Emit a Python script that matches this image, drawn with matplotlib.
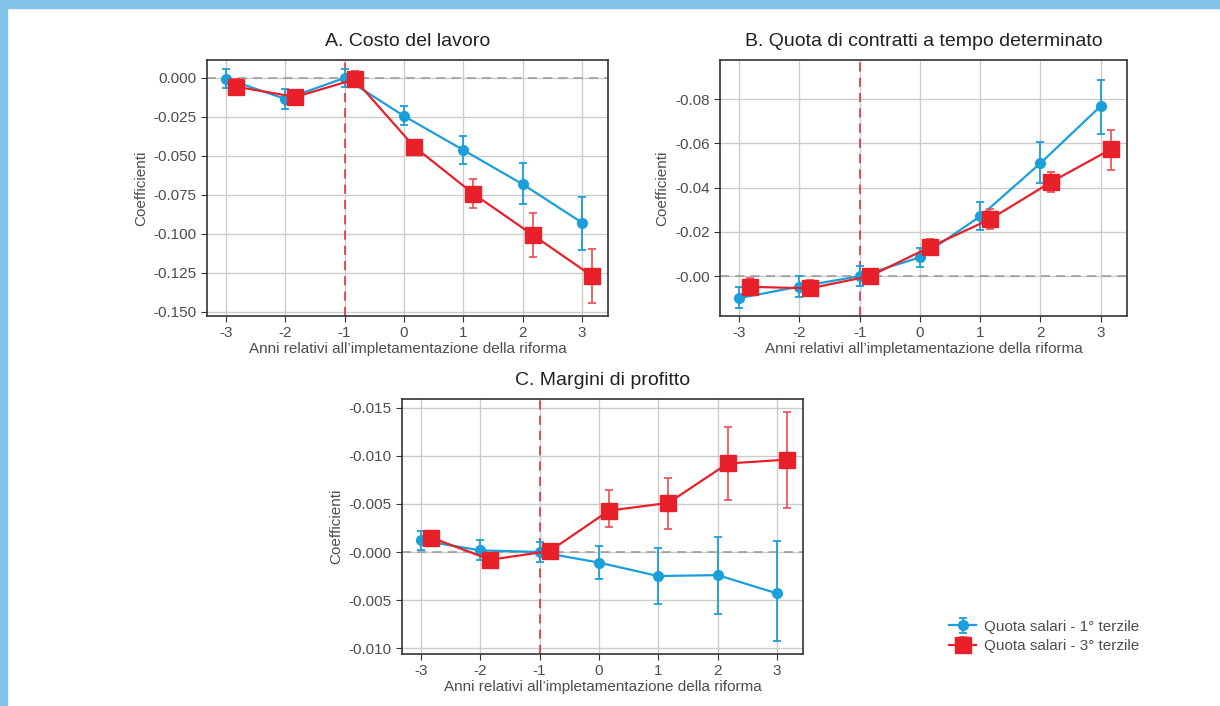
import numpy as np
import matplotlib
matplotlib.use("Agg")
import matplotlib.pyplot as plt
from matplotlib.ticker import FuncFormatter
from matplotlib.patches import Rectangle

plt.rcParams['font.family'] = ['Liberation Sans', 'DejaVu Sans']
plt.rcParams['axes.unicode_minus'] = False

# anni relativi
anni = [-3, -2, -1, 0, 1, 2, 3]
serie = ['Quota salari - 1° terzile', 'Quota salari - 3° terzile']

# A. Costo del lavoro
a_blu = [-0.0004, -0.0135, 0.0000, -0.0244, -0.0462, -0.0681, -0.0927]
a_blu_hi = [0.0060, -0.0073, 0.0060, -0.0177, -0.0370, -0.0547, -0.0763]
a_blu_lo = [-0.0066, -0.0199, -0.0060, -0.0303, -0.0551, -0.0810, -0.1100]
a_ros = [-0.0056, -0.0122, -0.0009, -0.0440, -0.0742, -0.1006, -0.1269]
a_ros_hi = [-0.0009, -0.0075, 0.0047, -0.0395, -0.0645, -0.0863, -0.1098]
a_ros_lo = [-0.0109, -0.0175, -0.0051, -0.0494, -0.0835, -0.1149, -0.1444]

# B. Quota di contratti a tempo determinato
b_blu = [-0.0099, -0.0047, 0.0000, 0.0085, 0.0270, 0.0510, 0.0768]
b_blu_hi = [-0.0051, -0.0001, 0.0044, 0.0129, 0.0336, 0.0606, 0.0886]
b_blu_lo = [-0.0142, -0.0092, -0.0044, 0.0041, 0.0209, 0.0420, 0.0644]
b_ros = [-0.0048, -0.0055, 0.0000, 0.0132, 0.0258, 0.0424, 0.0573]
b_ros_hi = [-0.0009, -0.0018, 0.0033, 0.0167, 0.0302, 0.0473, 0.0662]
b_ros_lo = [-0.0080, -0.0088, -0.0033, 0.0097, 0.0212, 0.0379, 0.0480]

# C. Margini di profitto
c_blu = [0.0012, 0.00017, 0.0000, -0.0011, -0.0025, -0.0024, -0.0043]
c_blu_hi = [0.0022, 0.0012, 0.0010, 0.00065, 0.00045, 0.0016, 0.0011]
c_blu_lo = [0.0002, -0.0008, -0.0010, -0.0028, -0.0054, -0.0064, -0.0093]
c_ros = [0.0015, -0.0008, 0.0001, 0.0043, 0.0051, 0.0092, 0.0096]
c_ros_hi = [0.0022, -0.0001, 0.0008, 0.0064, 0.0077, 0.0130, 0.0145]
c_ros_lo = [0.00065, -0.0016, -0.0007, 0.0026, 0.0024, 0.0054, 0.0046]

BLU = '#1a9fdb'
ROSSO = '#e8202a'
TXT = '#4d4d4d'

fig = plt.figure(figsize=(12.2, 7.06), dpi=100)
fig.patches.append(Rectangle((0, 1 - 8 / 706), 1, 8 / 706, transform=fig.transFigure,
                             color='#85c4ea', zorder=0))
fig.patches.append(Rectangle((0, 0), 7 / 1220, 1, transform=fig.transFigure,
                             color='#85c4ea', zorder=0))


def pannello(rect, titolo, blu, blu_lo, blu_hi, ros, ros_lo, ros_hi, yticks, ylim, fmt):
    ax = fig.add_axes(rect)
    x = np.array(anni, dtype=float)
    blu = np.array(blu); ros = np.array(ros)
    eb = np.vstack([blu - np.array(blu_lo), np.array(blu_hi) - blu])
    er = np.vstack([ros - np.array(ros_lo), np.array(ros_hi) - ros])
    ax.axhline(0, color='#999999', lw=1.1, ls=(0, (6, 4)), zorder=1)
    ax.axvline(-1, color=ROSSO, lw=1.1, ls=(0, (6, 4)), zorder=1)
    hb = ax.errorbar(x, blu, yerr=eb, color=BLU, lw=1.6, marker='o', ms=7,
                     capsize=3, elinewidth=1.3, capthick=1.3, zorder=3)
    hr = ax.errorbar(x + 0.17, ros, yerr=er, color=ROSSO, lw=1.6, marker='s', ms=12,
                     capsize=3, elinewidth=1.2, capthick=1.2, ecolor='#ee4a50', zorder=4)
    ax.set_xlim(-3.32, 3.44)
    ax.set_ylim(*ylim)
    ax.set_xticks(anni)
    ax.set_yticks(yticks)
    ax.yaxis.set_major_formatter(FuncFormatter(fmt))
    ax.grid(True, color='#cccccc', lw=1.0)
    ax.set_axisbelow(True)
    for s in ax.spines.values():
        s.set_color('#333333')
        s.set_linewidth(1.2)
    ax.tick_params(colors=TXT, labelsize=11, length=4, color='#333333')
    ax.set_title(titolo, fontsize=14, color='#222222', pad=10)
    ax.set_xlabel("Anni relativi all\u2019impletamentazione della riforma", fontsize=11,
                  color=TXT, labelpad=1)
    ax.set_ylabel('Coefficienti', fontsize=11, color=TXT)
    return hb, hr


fmt_a = lambda v, p: f'{v:.3f}' if abs(v) > 1e-9 else '0.000'
fmt_b = lambda v, p: f'-{abs(v):.2f}'
fmt_c = lambda v, p: f'-{abs(v):.3f}'

pannello((207 / 1220, 1 - 316 / 706, 401 / 1220, 256 / 706), 'A. Costo del lavoro',
         a_blu, a_blu_lo, a_blu_hi, a_ros, a_ros_lo, a_ros_hi,
         [0, -0.025, -0.05, -0.075, -0.1, -0.125, -0.15], (-0.1526, 0.0115), fmt_a)
pannello((720 / 1220, 1 - 316 / 706, 407 / 1220, 256 / 706),
         'B. Quota di contratti a tempo determinato',
         b_blu, b_blu_lo, b_blu_hi, b_ros, b_ros_lo, b_ros_hi,
         [0, 0.02, 0.04, 0.06, 0.08], (-0.018, 0.0977), fmt_b)
hb, hr = pannello((402 / 1220, 1 - 654 / 706, 401 / 1220, 255 / 706), 'C. Margini di profitto',
                  c_blu, c_blu_lo, c_blu_hi, c_ros, c_ros_lo, c_ros_hi,
                  [-0.01, -0.005, 0, 0.005, 0.01, 0.015], (-0.0106, 0.0159), fmt_c)

fig.legend([hb, hr], serie, loc='upper left', bbox_to_anchor=(935 / 1220, 1 - 606 / 706),
           frameon=False, fontsize=11, handlelength=1.8, handletextpad=0.5,
           labelspacing=0.35, labelcolor=TXT)

fig.savefig('out.png', dpi=100)
